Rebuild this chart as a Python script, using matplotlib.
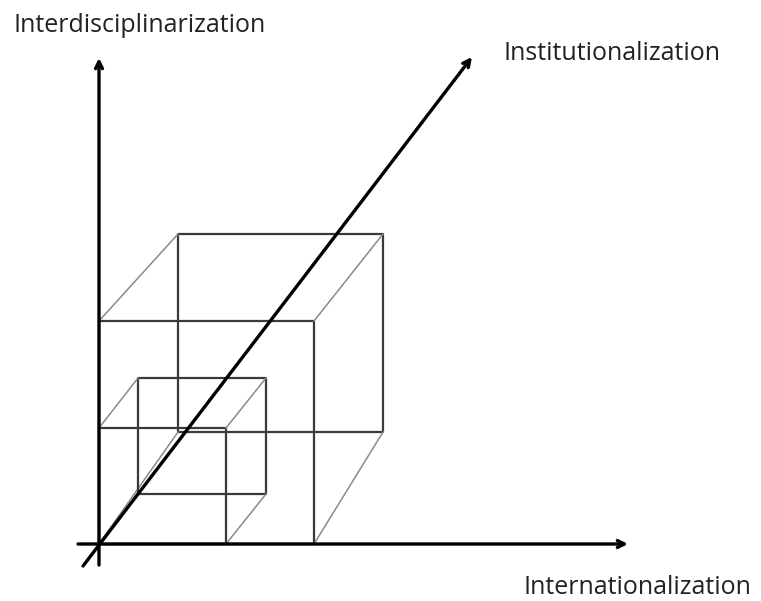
import matplotlib.pyplot as plt

# pixel-space geometry of the diagram (origin top-left)
origin = (99, 544)
x_axis = [(78, 544), (628, 544)]
y_axis = [(99, 565), (99, 58)]
diag_axis = [(83, 566), (472, 57)]

# large cube: front face, back face
big_front = [(99, 544), (314, 544), (314, 321), (99, 321)]
big_back = [(178, 432), (383, 432), (383, 234), (178, 234)]
# small cube
small_front = [(99, 544), (226, 544), (226, 428), (99, 428)]
small_back = [(138, 494), (266, 494), (266, 378), (138, 378)]

labels = ["Interdisciplinarization", "Institutionalization", "Internationalization"]
label_pos = [(13, 25), (503, 53), (524, 588)]

plt.rcParams['font.family'] = ['Open Sans', 'DejaVu Sans']

fig = plt.figure(figsize=(7.61, 6.01), dpi=100)
ax = fig.add_axes([0, 0, 1, 1])
ax.set_xlim(0, 761)
ax.set_ylim(601, 0)
ax.axis('off')


def draw_cube(front, back):
    fx, fy = zip(*(front + front[:1]))
    bx, by = zip(*(back + back[:1]))
    ax.plot(fx, fy, color='#3a3a3a', lw=1.6, solid_capstyle='butt')
    ax.plot(bx, by, color='#3a3a3a', lw=1.6, solid_capstyle='butt')
    for p, q in zip(front, back):
        ax.plot([p[0], q[0]], [p[1], q[1]], color='#8a8a8a', lw=1.1)


draw_cube(big_front, big_back)
draw_cube(small_front, small_back)

# axes with arrows
for start, end in [x_axis, y_axis, diag_axis]:
    ax.annotate('', xy=end, xytext=start,
                arrowprops=dict(arrowstyle='->,head_length=0.5,head_width=0.25',
                                color='black', lw=2.4, shrinkA=0, shrinkB=0))

for text, (x, y) in zip(labels, label_pos):
    ax.text(x, y, text, fontsize=18, color='#222222', ha='left', va='center')

fig.savefig('out.png', dpi=100)
